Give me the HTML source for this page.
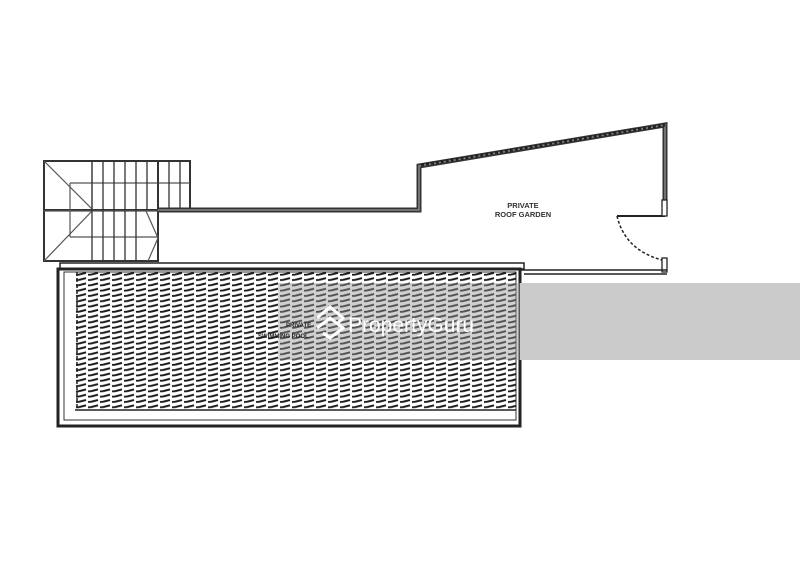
<!DOCTYPE html>
<html><head><style>
html,body{margin:0;padding:0;background:#fff;width:800px;height:566px;overflow:hidden}
</style></head><body>
<svg width="800" height="566" viewBox="0 0 800 566" xmlns="http://www.w3.org/2000/svg">
<defs>
<pattern id="h" x="75" y="271" width="12" height="5.3" patternUnits="userSpaceOnUse">
<path d="M1 3.8 L4 3.6 M4 3.6 L11 1.8" stroke="#1a1a1a" stroke-width="1.9"/>
</pattern>
</defs>
<rect width="800" height="566" fill="#fff"/>
<g stroke="#333" fill="none">
<rect x="44" y="161" width="146" height="49" stroke-width="2"/>
<rect x="44" y="161" width="114" height="100" stroke-width="2"/>
<g stroke-width="1.2" stroke="#555">
<line x1="92" y1="161" x2="92" y2="210"/>
<line x1="70" y1="183" x2="190" y2="183"/>
<line x1="70" y1="237" x2="158" y2="237"/>
<line x1="44" y1="211" x2="158" y2="211"/>
<line x1="70" y1="183" x2="70" y2="237"/>
<line x1="44" y1="161" x2="93" y2="210"/>
<line x1="44" y1="261" x2="93" y2="210"/>
<line x1="146" y1="211" x2="158" y2="238"/>
<line x1="158" y1="238" x2="148" y2="261"/>
</g>
<g stroke-width="1.3">
<line x1="92" y1="161" x2="92" y2="261"/>
<line x1="103" y1="161" x2="103" y2="261"/>
<line x1="114" y1="161" x2="114" y2="261"/>
<line x1="125" y1="161" x2="125" y2="261"/>
<line x1="136" y1="161" x2="136" y2="261"/>
<line x1="147" y1="161" x2="147" y2="210"/>
<line x1="158" y1="161" x2="158" y2="210"/>
<line x1="169" y1="161" x2="169" y2="210"/>
<line x1="180" y1="161" x2="180" y2="210"/>
</g>
</g>
<path d="M158 210 L419 210 L419 166 L665 125 L665 214" fill="none" stroke="#333" stroke-width="5"/>
<path d="M158 210 L419 210 L419 166 L665 125 L665 214" fill="none" stroke="#888" stroke-width="1.5"/>
<path d="M421 165 L665 125" fill="none" stroke="#222" stroke-width="3" stroke-dasharray="3,2"/>
<path d="M617 216 L665 216" stroke="#222" stroke-width="2"/>
<rect x="662" y="200" width="5" height="16" fill="#fff" stroke="#222" stroke-width="1.3"/>
<path d="M617 216 Q625 250 662 260" fill="none" stroke="#222" stroke-width="1.5" stroke-dasharray="3,2"/>
<rect x="662" y="258" width="5" height="14" fill="#fff" stroke="#222" stroke-width="1.3"/>
<path d="M520 270 L667 270 M524 274 L667 274" stroke="#222" stroke-width="1.5"/>
<rect x="60" y="263" width="464" height="6" fill="#fff" stroke="#222" stroke-width="1.5"/>
<rect x="58" y="269" width="462" height="157" fill="#fff" stroke="#222" stroke-width="3"/>
<rect x="64" y="272" width="452" height="148" fill="#fff" stroke="#333" stroke-width="1"/>
<rect x="75" y="271" width="441" height="139" fill="url(#h)"/>
<line x1="75" y1="410" x2="516" y2="410" stroke="#222" stroke-width="1.5"/>
<line x1="77" y1="272" x2="77" y2="410" stroke="#222" stroke-width="1.5" stroke-dasharray="4,2"/>
<rect x="278" y="283" width="242" height="77" fill="#999" opacity="0.45"/>
<rect x="520" y="283" width="280" height="77" fill="#cbcbcb"/>
<text x="286" y="327" font-family="Liberation Sans, sans-serif" font-size="6" font-weight="bold" fill="#222">PRIVATE</text>
<text x="258" y="338" font-family="Liberation Sans, sans-serif" font-size="6" font-weight="bold" fill="#222">SWIMMING POOL</text>
<g fill="none" stroke="#fff" stroke-width="3">
<path d="M317 318 L330 307 L343 318 L337 324"/>
<path d="M317 328 L330 318 L343 328 L330 338 L323 333"/>
</g>
<text x="348" y="332" font-family="Liberation Sans, sans-serif" font-size="21" fill="#fff">PropertyGuru</text>
<text x="523" y="208" font-family="Liberation Sans, sans-serif" font-size="7.5" font-weight="bold" fill="#333" text-anchor="middle">PRIVATE</text>
<text x="523" y="217" font-family="Liberation Sans, sans-serif" font-size="7.5" font-weight="bold" fill="#333" text-anchor="middle">ROOF GARDEN</text>
</svg>
</body></html>
